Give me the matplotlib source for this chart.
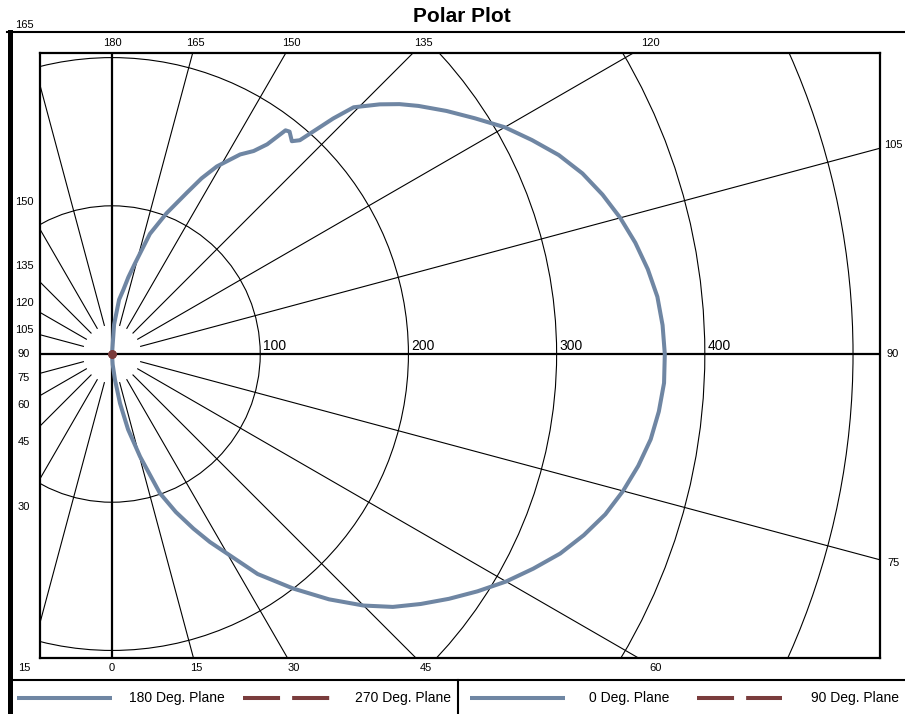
#!/usr/bin/env python

# Polar plot of the measured planes, drawn on a cartesian grid
# (0 deg points down, 90 deg points right, 180 deg points up)

import numpy
import matplotlib
from matplotlib.backends.backend_agg import \
             FigureCanvasAgg as FigureCanvas
from matplotlib.figure import Figure
from matplotlib.lines import Line2D
from matplotlib.patches import Circle

matplotlib.rcParams['font.family']=['Liberation Sans','DejaVu Sans']

# Measured pattern - angle (degrees) and radius
plane_0_angle=[0, 3.5, 6.6, 9.2, 12, 15.3, 19, 22, 25, 27.5, 29.9, 33.5,
               37.7, 41.5, 45, 48, 51, 54, 57, 60, 63, 66, 69, 72, 75,
               78, 81, 84, 87, 90, 93, 96, 99, 102, 105, 108, 111, 114,
               117, 120, 123, 126, 129, 131, 133, 135.6, 136.8, 138.7,
               139.8, 141.4, 142.2, 143.5, 145.1, 147.3, 150.8, 153,
               155.1, 158.8, 162.5, 165.8, 168, 170, 172.6, 176, 180]
plane_0_radius=[0, 7, 17.7, 33.7, 52, 71.8, 99.4, 115, 130, 143, 155, 178,
                200, 221, 240, 255, 268, 281, 294, 307, 319, 331, 341, 350, 357,
                363, 368, 371, 373, 373, 372, 370, 366, 361, 355, 348, 340, 330,
                318, 306, 292, 279, 266, 257, 247, 233, 218, 192,
                188, 192, 191, 176, 167, 160, 145, 133,
                120, 102, 85, 63, 53, 44, 37, 20, 0]

# The other planes collapse onto the origin
plane_180_angle=[0, 180]
plane_180_radius=[0, 0]
plane_90_angle=[0, 180]
plane_90_radius=[0, 0]
plane_270_angle=[0, 180]
plane_270_radius=[0, 0]

ring_radii=[100, 200, 300, 400, 500, 600]
ring_labels=['100', '200', '300', '400']
spoke_angles=[15, 30, 45, 60, 75, 105, 120, 135, 150, 165]
angle_labels=[0, 15, 30, 45, 60, 75, 90, 105, 120, 135, 150, 165, 180]

legend_names=['180 Deg. Plane', '270 Deg. Plane', '0 Deg. Plane', '90 Deg. Plane']

blue='#6F86A3'
red='#7A3C3C'

W,H=905,714
fig=Figure(figsize=(W/100,H/100),dpi=100,facecolor='white')
canvas=FigureCanvas(fig)

def fx(px):
    return px/W
def fy(py):
    return 1-py/H

def to_xy(angle,radius):
    a=numpy.radians(numpy.asarray(angle,dtype=float))
    r=numpy.asarray(radius,dtype=float)
    return r*numpy.sin(a),-r*numpy.cos(a)

# Plot area
ax=fig.add_axes([fx(40),fy(658),fx(880)-fx(40),fy(53)-fy(658)])
ax.set_xlim(-48.6,518.2)
ax.set_ylim(-205.1,203.1)
ax.set_xticks([])
ax.set_yticks([])
for s in ax.spines.values():
    s.set_linewidth(1.6)

# Rings
for r in ring_radii:
    ax.add_patch(Circle((0,0),r,fill=False,edgecolor='black',linewidth=0.8))
for r,lab in zip(ring_radii,ring_labels):
    ax.text(r+2,2.8,lab,ha='left',va='baseline',fontsize=10)

# Spokes, mirrored on both sides, with a gap round the centre
for a in spoke_angles:
    x,y=to_xy([a,a],[20,1200])
    ax.plot(x,y,color='black',linewidth=0.8)
    ax.plot(-x,y,color='black',linewidth=0.8)
ax.axhline(0,color='black',linewidth=1.6)
ax.axvline(0,color='black',linewidth=1.6)

# Angle labels where each spoke runs out to the label frame
Xl,Xr,Yt,Yb=-59.4,527.0,209.9,-211.9
for a in angle_labels:
    dx,dy=to_xy(a,1.0)
    ts=[]
    if dx>1e-9:
        ts.append(Xr/dx)
    if dy>1e-9:
        ts.append(Yt/dy)
    if dy<-1e-9:
        ts.append(Yb/dy)
    t=min(ts)
    ax.text(dx*t,dy*t,str(a),ha='center',va='center',fontsize=8,clip_on=False)
    if 0<a<180:
        t=Xl/-dx
        ax.text(Xl,max(dy*t,Yb),str(a),ha='center',va='center',fontsize=8,
                clip_on=False)

# Data
x,y=to_xy(plane_0_angle,plane_0_radius)
ax.plot(x,y,color=blue,linewidth=2.9,solid_joinstyle='round',zorder=5)
x,y=to_xy(plane_180_angle,plane_180_radius)
ax.plot(x,y,color=blue,linewidth=2.9,zorder=5)
x,y=to_xy(plane_270_angle,plane_270_radius)
ax.plot(x,y,color=red,linewidth=2.9,linestyle='--',marker='o',ms=6,
        markeredgewidth=0,zorder=6)
x,y=to_xy(plane_90_angle,plane_90_radius)
ax.plot(x,y,color=red,linewidth=2.9,linestyle='--',marker='o',ms=6,
        markeredgewidth=0,zorder=6)

# Title and outer frame
fig.text(fx(462),fy(17),'Polar Plot',ha='center',va='center',
         fontsize=15,fontweight='bold')
fig.add_artist(Line2D([fx(7),fx(905)],[fy(32),fy(32)],color='black',linewidth=1.5))
fig.add_artist(Line2D([fx(9.5),fx(9.5)],[fy(32),fy(714)],color='black',linewidth=3.6))
fig.add_artist(Line2D([fx(12),fx(905)],[fy(680),fy(680)],color='black',linewidth=1.5))
fig.add_artist(Line2D([fx(458),fx(458)],[fy(680),fy(714)],color='black',linewidth=1.5))

# Legend along the bottom
ly=fy(698)
dash=(0,(9.2,3.0))
legend_lines=[(17,112,blue,'-'),(243,330,red,dash),(470,565,blue,'-'),(697,782,red,dash)]
legend_text_x=[177,403,629,855]
for (x0,x1,c,ls),tx,name in zip(legend_lines,legend_text_x,legend_names):
    fig.add_artist(Line2D([fx(x0),fx(x1)],[ly,ly],color=c,linewidth=2.9,
                          linestyle=ls,solid_capstyle='butt',dash_capstyle='butt'))
    fig.text(fx(tx),ly,name,ha='center',va='center',fontsize=10)

fig.savefig('out.png')
